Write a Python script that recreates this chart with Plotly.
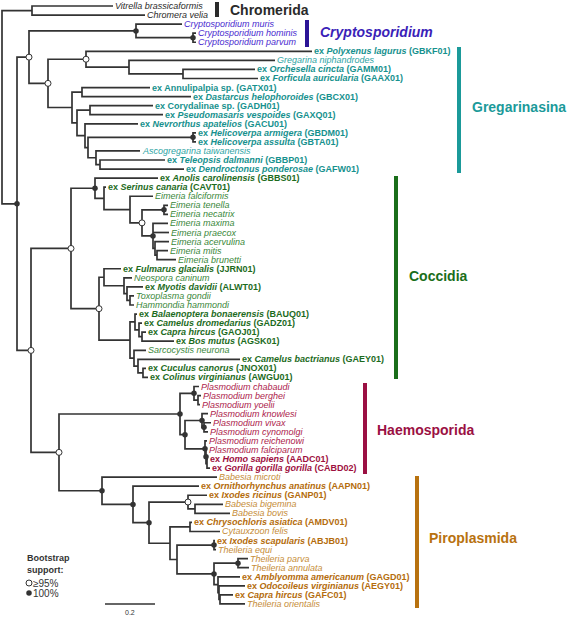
import plotly.graph_objects as go

# ---------------- data ----------------
TIP_SPECIES = [
    "Vitrella brassicaformis", "Chromera velia",
    "Cryptosporidium muris", "Cryptosporidium hominis", "Cryptosporidium parvum",
    "Polyxenus lagurus", "Gregarina niphandrodes", "Orchesella cincta", "Forficula auricularia",
    "Annulipalpia sp.", "Dastarcus helophoroides", "Corydalinae sp.", "Pseudomasaris vespoides",
    "Nevrorthus apatelios", "Helicoverpa armigera", "Helicoverpa assulta",
    "Ascogregarina taiwanensis", "Teleopsis dalmanni", "Dendroctonus ponderosae",
    "Anolis carolinensis", "Serinus canaria", "Eimeria falciformis", "Eimeria tenella",
    "Eimeria necatrix", "Eimeria maxima", "Eimeria praecox", "Eimeria acervulina",
    "Eimeria mitis", "Eimeria brunetti", "Fulmarus glacialis", "Neospora caninum",
    "Myotis davidii", "Toxoplasma gondii", "Hammondia hammondi", "Balaenoptera bonaerensis",
    "Camelus dromedarius", "Capra hircus", "Bos mutus", "Sarcocystis neurona",
    "Camelus bactrianus", "Cuculus canorus", "Colinus virginianus",
    "Plasmodium chabaudi", "Plasmodium berghei", "Plasmodium yoelii", "Plasmodium knowlesi",
    "Plasmodium vivax", "Plasmodium cynomolgi", "Plasmodium reichenowi", "Plasmodium falciparum",
    "Homo sapiens", "Gorilla gorilla gorilla",
    "Babesia microti", "Ornithorhynchus anatinus", "Ixodes ricinus", "Babesia bigemina",
    "Babesia bovis", "Chrysochloris asiatica", "Cytauxzoon felis", "Ixodes scapularis",
    "Theileria equi", "Theileria parva", "Theileria annulata", "Amblyomma americanum",
    "Odocoileus virginianus", "Capra hircus", "Theileria orientalis",
]
TIP_ACCESSION = [
    None, None,
    None, None, None,
    "GBKF01", None, "GAMM01", "GAAX01",
    "GATX01", "GBCX01", "GADH01", "GAXQ01",
    "GACU01", "GBDM01", "GBTA01",
    None, "GBBP01", "GAFW01",
    "GBBS01", "CAVT01", None, None,
    None, None, None, None,
    None, None, "JJRN01", None,
    "ALWT01", None, None, "BAUQ01",
    "GADZ01", "GAOJ01", "AGSK01", None,
    "GAEY01", "JNOX01", "AWGU01",
    None, None, None, None,
    None, None, None, None,
    "AADC01", "CABD02",
    None, "AAPN01", "GANP01", None,
    None, "AMDV01", None, "ABJB01",
    None, None, None, "GAGD01",
    "AEGY01", "GAFC01", None,
]
TIP_GROUP = (["Chromerida"] * 2 + ["Cryptosporidium"] * 3 + ["Gregarinasina"] * 14 +
             ["Coccidia"] * 23 + ["Haemosporida"] * 10 + ["Piroplasmida"] * 15)

# tree topology with branch lengths (substitutions/site); tips refer to indices above;
# internal labels: w = bootstrap >=95 %, f = 100 %
CHROMERIDA_NWK = "(0:0.324,1:0.452):0.120"
CRYPTO_NWK = "(2:0.184,(3:0.012,4:0.012)f:0.228)f:0.428"
GREG_NWK = ("((5:0.904,(6:0.584,(7:0.288,8:0.300):0.216):0.172)w:0.152,"
            "((9:0.272,10:0.436):0.040,((11:0.252,12:0.292):0.052,(13:0.212,((14:0.012,15:0.012)f:0.420,"
            "(16:0.176,(17:0.260,18:0.336):0.016):0.032):0.012):0.032):0.020):0.096)w:0.076")
COCC_NWK = ("((19:0.252,(20:0.008,(21:0.092,((22:0.016,23:0.016)f:0.088,(24:0.060,25:0.064,"
            "(26:0.056,(27:0.044,28:0.076):0.008):0.008)f:0.044)w:0.048):0.104):0.036)f:0.096,"
            "((29:0.068,(30:0.032,(31:0.064,(32:0.016,33:0.016):0.012):0.012):0.080):0.020,"
            "((34:0.008,(35:0.012,(36:0.016,37:0.128):0.012):0.016):0.020,"
            "(38:0.048,(39:0.408,(40:0.012,41:0.020):0.020):0.016):0.016):0.124)w:0.112)w:0.160")
HAEMO_NWK = ("((42:0.020,(43:0.012,44:0.008):0.016)f:0.056,((45:0.024,(46:0.028,47:0.016)f:0.008)f:0.068,"
             "(48:0.008,(49:0.004,(50:0.004,51:0.012):0.004)f:0.004)f:0.080)f:0.020)f:0.484")
PIRO_NWK = ("(52:0.460,(53:0.264,((54:0.076,(55:0.112,56:0.140):0.028)w:0.156,"
            "((57:0.008,58:0.120):0.080,((59:0.004,60:0.008)f:0.148,((61:0.040,62:0.044)f:0.096,"
            "(63:0.088,(64:0.104,(65:0.052,66:0.100):0.004):0.004):0.016)f:0.148):0.028):0.084)f:0.064)f:0.124)f:0.172")
BASAL_LENGTHS = {"core": 0.060, "crypto_greg": 0.048, "cocc_rest": 0.056, "haemo_piro": 0.112}

CLADES = ["Chromerida", "Cryptosporidium", "Gregarinasina", "Coccidia", "Haemosporida", "Piroplasmida"]
SCALE_BAR = 0.2

# ---------------- styles ----------------
EX_COLOR = {"Chromerida": "#222222", "Cryptosporidium": "#4a2bcf", "Gregarinasina": "#16918e",
            "Coccidia": "#1d6b1d", "Haemosporida": "#9e0f40", "Piroplasmida": "#b46c0c"}
SP_COLOR = {"Chromerida": "#2a2a2a", "Cryptosporidium": "#4a2bcf", "Gregarinasina": "#2ea4a4",
            "Coccidia": "#3a883a", "Haemosporida": "#ad1d4d", "Piroplasmida": "#c68d38"}
BAR_COLOR = {"Chromerida": "#2a2a2a", "Cryptosporidium": "#2b1496", "Gregarinasina": "#1b9a9a",
             "Coccidia": "#1a6e1a", "Haemosporida": "#9b1043", "Piroplasmida": "#b8720f"}
# clade bar (x px, y0 px, y1 px) and label (x px, y px) positions
BAR_POS = {"Chromerida": (217, 2, 17), "Cryptosporidium": (307, 20, 47), "Gregarinasina": (459, 47, 173),
           "Coccidia": (396, 176, 379), "Haemosporida": (365, 383, 474), "Piroplasmida": (417, 476, 608)}
LABEL_POS = {"Chromerida": (228, 10), "Cryptosporidium": (318, 32), "Gregarinasina": (470, 107),
             "Coccidia": (407, 276), "Haemosporida": (375, 430), "Piroplasmida": (427, 538)}

W, H = 567, 617
PX_PER_UNIT = 250.0
X0_PX = 2.0
Y0_PX, DY_PX = 6.0, 9.06
FONT = "Liberation Sans, Arial, sans-serif"
LINE_COLOR = "#333333"


def parse_newick(s):
    pos = 0

    def read_label():
        nonlocal pos
        start = pos
        while pos < len(s) and s[pos] not in ",():;":
            pos += 1
        return s[start:pos]

    def parse_node():
        nonlocal pos
        node = {"children": [], "tip": None, "support": None, "length": 0.0}
        if s[pos] == "(":
            pos += 1
            while True:
                node["children"].append(parse_node())
                if s[pos] == ",":
                    pos += 1
                    continue
                if s[pos] == ")":
                    pos += 1
                    break
            lab = read_label()
            node["support"] = lab or None
        else:
            node["tip"] = int(read_label())
        if pos < len(s) and s[pos] == ":":
            pos += 1
            node["length"] = float(read_label())
        return node

    return parse_node()


TREE_NWK = ("(" + CHROMERIDA_NWK + ",((" + CRYPTO_NWK + "," + GREG_NWK + ")w:" + str(BASAL_LENGTHS["crypto_greg"]) +
            ",(" + COCC_NWK + ",(" + HAEMO_NWK + "," + PIRO_NWK + ")w:" + str(BASAL_LENGTHS["haemo_piro"]) +
            ")w:" + str(BASAL_LENGTHS["cocc_rest"]) + ")f:" + str(BASAL_LENGTHS["core"]) + ");")
root = parse_newick(TREE_NWK)


def place(node, depth):
    node["x"] = depth + node["length"]
    if node["tip"] is not None:
        node["y"] = float(node["tip"])
    else:
        for c in node["children"]:
            place(c, node["x"])
        node["y"] = (node["children"][0]["y"] + node["children"][-1]["y"]) / 2.0


place(root, 0.0)

lx, ly = [], []
white_x, white_y, full_x, full_y = [], [], [], []
tips = {}


def walk(node):
    if node["tip"] is not None:
        tips[node["tip"]] = node
        return
    ch = node["children"]
    a, b = ch[0], ch[-1]
    lx.extend([a["x"], node["x"], node["x"], b["x"], None])
    ly.extend([a["y"], a["y"], b["y"], b["y"], None])
    for c in ch[1:-1]:
        lx.extend([node["x"], c["x"], None])
        ly.extend([c["y"], c["y"], None])
    if node["support"] == "w":
        white_x.append(node["x"]); white_y.append(node["y"])
    elif node["support"] == "f":
        full_x.append(node["x"]); full_y.append(node["y"])
    for c in ch:
        walk(c)


walk(root)

x_lo = -X0_PX / PX_PER_UNIT
x_hi = x_lo + W / PX_PER_UNIT
y_top = -Y0_PX / DY_PX
y_bot = y_top + H / DY_PX


def px_x(p):
    return x_lo + p / PX_PER_UNIT


def px_y(p):
    return y_top + p / DY_PX


fig = go.Figure()
fig.add_trace(go.Scatter(x=lx, y=ly, mode="lines", line=dict(color=LINE_COLOR, width=1.7),
                         hoverinfo="skip", showlegend=False))
fig.add_trace(go.Scatter(x=full_x, y=full_y, mode="markers",
                         marker=dict(size=5.5, color=LINE_COLOR, line=dict(width=0)),
                         hoverinfo="skip", showlegend=False))
fig.add_trace(go.Scatter(x=white_x, y=white_y, mode="markers",
                         marker=dict(size=6, color="white", line=dict(width=1, color=LINE_COLOR)),
                         hoverinfo="skip", showlegend=False))

annotations = []
for i, sp in enumerate(TIP_SPECIES):
    grp = TIP_GROUP[i]
    acc = TIP_ACCESSION[i]
    node = tips[i]
    if acc:
        name = sp if sp.endswith(" sp.") else "<i>" + sp + "</i>"
        txt = "<b>ex " + name + " (" + acc + ")</b>"
        col = EX_COLOR[grp]
    else:
        txt = "<i>" + sp + "</i>"
        col = SP_COLOR[grp]
    annotations.append(dict(x=node["x"], y=node["y"], text=txt, showarrow=False, xanchor="left",
                            yanchor="middle", xshift=0, font=dict(size=9, color=col, family=FONT)))

shapes = []
for cl in CLADES:
    bx, by0, by1 = BAR_POS[cl]
    shapes.append(dict(type="line", x0=px_x(bx), x1=px_x(bx), y0=px_y(by0), y1=px_y(by1),
                       line=dict(color=BAR_COLOR[cl], width=4)))
    tx, ty = LABEL_POS[cl]
    t = "<b><i>" + cl + "</i></b>" if cl == "Cryptosporidium" else "<b>" + cl + "</b>"
    annotations.append(dict(x=px_x(tx), y=px_y(ty), text=t, showarrow=False, xanchor="left",
                            yanchor="middle", font=dict(size=14, color=BAR_COLOR[cl] if cl != "Cryptosporidium" else "#3b1fb8", family=FONT)))

# scale bar
sb_x0 = px_x(105)
shapes.append(dict(type="line", x0=sb_x0, x1=sb_x0 + SCALE_BAR, y0=px_y(604), y1=px_y(604),
                   line=dict(color=LINE_COLOR, width=1.5)))
annotations.append(dict(x=sb_x0 + SCALE_BAR / 2, y=px_y(612), text=str(SCALE_BAR), showarrow=False,
                        xanchor="center", yanchor="middle", font=dict(size=7, color="#333", family=FONT)))

# bootstrap legend
annotations.append(dict(x=px_x(25), y=px_y(564), text="<b>Bootstrap<br>support:</b>", showarrow=False,
                        xanchor="left", yanchor="middle", align="left",
                        font=dict(size=9, color="#333", family=FONT)))
annotations.append(dict(x=px_x(31), y=px_y(583), text="\u226595%", showarrow=False, xanchor="left",
                        yanchor="middle", font=dict(size=10, color="#333", family=FONT)))
annotations.append(dict(x=px_x(31), y=px_y(593), text="100%", showarrow=False, xanchor="left",
                        yanchor="middle", font=dict(size=10, color="#333", family=FONT)))
fig.add_trace(go.Scatter(x=[px_x(29)], y=[px_y(583)], mode="markers",
                         marker=dict(size=6, color="white", line=dict(width=1, color=LINE_COLOR)),
                         hoverinfo="skip", showlegend=False))
fig.add_trace(go.Scatter(x=[px_x(29)], y=[px_y(593)], mode="markers",
                         marker=dict(size=5.5, color=LINE_COLOR),
                         hoverinfo="skip", showlegend=False))

fig.update_layout(
    width=W, height=H, autosize=False,
    margin=dict(l=0, r=0, t=0, b=0),
    paper_bgcolor="white", plot_bgcolor="white",
    xaxis=dict(range=[x_lo, x_hi], visible=False, fixedrange=True),
    yaxis=dict(range=[y_bot, y_top], visible=False, fixedrange=True),
    annotations=annotations, shapes=shapes, showlegend=False,
)
fig.write_html("out.html", post_script="document.body.style.margin='0px';",
               config={"displayModeBar": False})
